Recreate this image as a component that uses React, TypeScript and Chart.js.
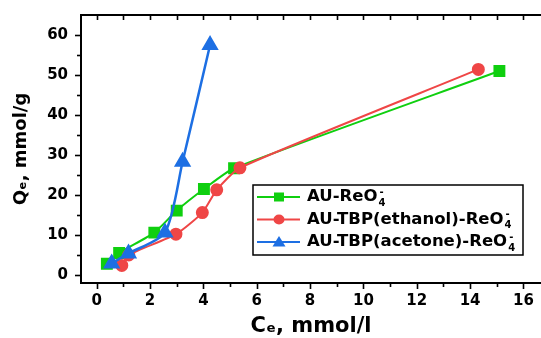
import React, { useEffect, useRef } from 'react';
import { Chart, registerables } from 'chart.js';

Chart.register(...registerables);

// Data
const auReO4Ce = [0.38, 0.84, 2.16, 3.0, 4.02, 5.15, 15.1];
const auReO4Qe = [2.8, 5.5, 10.6, 16.1, 21.5, 26.7, 51.0];
const ethanolCe = [0.94, 1.2, 2.97, 3.96, 4.5, 5.37, 14.31];
const ethanolQe = [2.4, 5.0, 10.2, 15.6, 21.3, 26.8, 51.4];
const acetoneCe = [0.56, 1.19, 2.56, 3.22, 4.25];
const acetoneQe = [2.9, 5.4, 10.6, 28.3, 57.5];

const seriesLabels = ['AU-ReO₄⁻', 'AU-TBP(ethanol)-ReO₄⁻', 'AU-TBP(acetone)-ReO₄⁻'];
const xTickLabels = [0, 2, 4, 6, 8, 10, 12, 14, 16];
const yTickLabels = [0, 10, 20, 30, 40, 50, 60];
const xTitle = 'Cₑ, mmol/l';
const yTitle = 'Qₑ, mmol/g';

const GREEN = '#0fcf0f';
const RED = '#ef4646';
const BLUE = '#1d6fe3';
const FONT = '"DejaVu Sans", "Liberation Sans", Arial, sans-serif';

const toPoints = (xs: number[], ys: number[]) => xs.map((x, i) => ({ x, y: ys[i] }));

const axisTicksPlugin = {
  id: 'axisTicks',
  afterDraw(chart: any) {
    const { ctx, chartArea: a } = chart;
    const xs = chart.scales.x;
    const ys = chart.scales.y;
    ctx.save();
    ctx.strokeStyle = '#000';
    ctx.lineWidth = 2;
    ctx.beginPath();
    ctx.moveTo(a.left - 1, a.top);
    ctx.lineTo(a.right + 2, a.top);
    ctx.stroke();
    ctx.lineWidth = 1.6;
    const xStep = xTickLabels[1] - xTickLabels[0];
    const xMax = xTickLabels[xTickLabels.length - 1];
    for (let v = xTickLabels[0]; v <= xMax + 1e-9; v += xStep / 2) {
      const px = Math.round(xs.getPixelForValue(v)) + 0.5;
      const major = Math.abs(v / xStep - Math.round(v / xStep)) < 1e-6;
      const len = major ? 6 : 4;
      ctx.beginPath();
      ctx.moveTo(px, a.bottom);
      ctx.lineTo(px, a.bottom + len);
      ctx.moveTo(px, a.top);
      ctx.lineTo(px, a.top + 5);
      ctx.stroke();
    }
    const yStep = yTickLabels[1] - yTickLabels[0];
    const yMax = yTickLabels[yTickLabels.length - 1];
    for (let v = yTickLabels[0]; v <= yMax + 1e-9; v += yStep / 2) {
      const py = Math.round(ys.getPixelForValue(v)) + 0.5;
      const major = Math.abs(v / yStep - Math.round(v / yStep)) < 1e-6;
      const len = major ? 6 : 4;
      ctx.beginPath();
      ctx.moveTo(a.left, py);
      ctx.lineTo(a.left - len, py);
      ctx.stroke();
    }
    ctx.restore();
  },
};

const legendPlugin = {
  id: 'boxLegend',
  afterDraw(chart: any) {
    const { ctx } = chart;
    const bx = 253, by = 185, bw = 270, bh = 70;
    ctx.save();
    ctx.fillStyle = '#fff';
    ctx.fillRect(bx, by, bw, bh);
    ctx.strokeStyle = '#000';
    ctx.lineWidth = 1.5;
    ctx.strokeRect(bx, by, bw, bh);
    chart.data.datasets.forEach((ds: any, i: number) => {
      const cy = by + 12 + i * 22.5;
      ctx.strokeStyle = ds.borderColor;
      ctx.lineWidth = 2;
      ctx.beginPath();
      ctx.moveTo(bx + 4, cy);
      ctx.lineTo(bx + 47, cy);
      ctx.stroke();
      const mx = bx + 26;
      ctx.fillStyle = ds.backgroundColor;
      ctx.beginPath();
      if (ds.pointStyle === 'rect') {
        ctx.rect(mx - 5, cy - 4.5, 10, 9);
      } else if (ds.pointStyle === 'circle') {
        ctx.ellipse(mx, cy, 5.5, 5, 0, 0, Math.PI * 2);
      } else {
        ctx.moveTo(mx, cy - 6);
        ctx.lineTo(mx + 6.5, cy + 4.5);
        ctx.lineTo(mx - 6.5, cy + 4.5);
        ctx.closePath();
      }
      ctx.fill();
      const label: string = ds.label;
      const main = label.replace('₄⁻', '');
      const tx = bx + 54;
      ctx.fillStyle = '#000';
      ctx.textBaseline = 'middle';
      ctx.textAlign = 'left';
      ctx.font = `bold 16.5px ${FONT}`;
      ctx.fillText(main, tx, cy);
      const w = ctx.measureText(main).width;
      ctx.font = `bold 10px ${FONT}`;
      ctx.fillText('4', tx + w + 1, cy + 6);
      ctx.fillText('-', tx + w + 2, cy - 5);
    });
    ctx.restore();
  },
};

export default function App() {
  const ref = useRef<HTMLCanvasElement>(null);
  useEffect(() => {
    document.body.style.margin = '0';
    const chart = new Chart(ref.current as HTMLCanvasElement, {
      type: 'line',
      data: {
        datasets: [
          {
            label: seriesLabels[0],
            data: toPoints(auReO4Ce, auReO4Qe),
            borderColor: GREEN,
            backgroundColor: GREEN,
            pointStyle: 'rect',
            pointRadius: 7,
            borderWidth: 2,
            tension: 0.2,
            order: 3,
          },
          {
            label: seriesLabels[1],
            data: toPoints(ethanolCe, ethanolQe),
            borderColor: RED,
            backgroundColor: RED,
            pointStyle: 'circle',
            pointRadius: 5.5,
            borderWidth: 2,
            tension: 0.2,
            order: 2,
          },
          {
            label: seriesLabels[2],
            data: toPoints(acetoneCe, acetoneQe),
            borderColor: BLUE,
            backgroundColor: BLUE,
            pointStyle: 'triangle',
            pointRadius: 7.5,
            borderWidth: 2.5,
            tension: 0.25,
            order: 1,
          },
        ],
      } as any,
      options: {
        animation: false,
        responsive: true,
        maintainAspectRatio: false,
        layout: { autoPadding: false, padding: { top: 15, right: 0, bottom: 0, left: 0 } },
        plugins: { legend: { display: false }, tooltip: { enabled: false } },
        elements: { point: { borderWidth: 0 } },
        scales: {
          x: {
            type: 'linear',
            min: -0.59,
            max: 16.66,
            grid: { drawOnChartArea: false, drawTicks: false },
            border: { display: true, color: '#000', width: 2 },
            ticks: {
              includeBounds: false,
              stepSize: xTickLabels[1] - xTickLabels[0],
              padding: 9,
              color: '#000',
              font: { family: FONT, size: 15, weight: 'bold' },
              maxRotation: 0,
              autoSkip: false,
            },
            title: {
              display: true,
              text: xTitle,
              color: '#000',
              font: { family: FONT, size: 21, weight: 'bold' },
              padding: { top: 0, bottom: -1 },
            },
            afterFit: (s: any) => {
              s.height = 55;
              s.paddingLeft = 0;
              s.paddingRight = 0;
            },
          },
          y: {
            type: 'linear',
            min: -2.0,
            max: 65,
            grid: { drawOnChartArea: false, drawTicks: false },
            border: { display: true, color: '#000', width: 2 },
            ticks: {
              includeBounds: false,
              stepSize: yTickLabels[1] - yTickLabels[0],
              padding: 13,
              color: '#000',
              font: { family: FONT, size: 15, weight: 'bold' },
              autoSkip: false,
            },
            title: {
              display: true,
              text: yTitle,
              color: '#000',
              font: { family: FONT, size: 18, weight: 'bold' },
              padding: { top: 11, bottom: 0 },
            },
            afterFit: (s: any) => {
              s.width = 81;
              s.paddingTop = 0;
              s.paddingBottom = 0;
            },
          },
        },
      } as any,
      plugins: [axisTicksPlugin, legendPlugin],
    });
    return () => chart.destroy();
  }, []);
  return (
    <div style={{ position: 'fixed', left: 0, top: 0, width: 541, height: 338 }}>
      <canvas ref={ref} />
    </div>
  );
}
